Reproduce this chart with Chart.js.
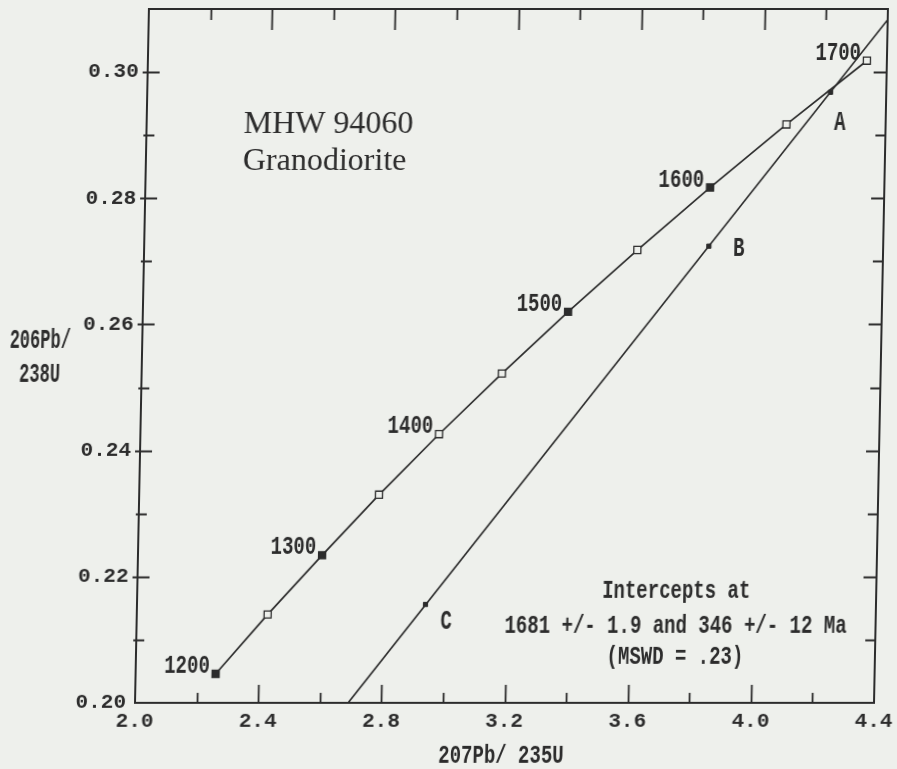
<!DOCTYPE html>
<html>
<head>
<meta charset="utf-8">
<script src="https://cdn.jsdelivr.net/npm/chart.js@4/dist/chart.umd.min.js"></script>
<style>
  html, body { margin: 0; padding: 0; background: #eef0ec; overflow: hidden; }
  #wrap { width: 897px; height: 769px; }
  canvas { display: block; transform: skewX(-1.15deg); transform-origin: 0 703px; }
</style>
</head>
<body>
<div id="wrap"><canvas id="c" width="897" height="769"></canvas></div>
<script>
// ---- data ----
const ages       = [1200, 1250, 1300, 1350, 1400, 1450, 1500, 1550, 1600, 1650, 1700];
const concordiaX = [2.260, 2.425, 2.598, 2.779, 2.970, 3.170, 3.381, 3.602, 3.834, 4.078, 4.335];
const concordiaY = [0.2046, 0.2140, 0.2234, 0.2330, 0.2426, 0.2522, 0.2620, 0.2718, 0.2817, 0.2917, 0.3018];
const labelledAges = [1200, 1300, 1400, 1500, 1600, 1700];
const filledAges   = [1200, 1300, 1500, 1600];

const discordiaX = [2.692, 4.400];
const discordiaY = [0.2000, 0.3083];

const sampleNames = ['A', 'B', 'C'];
const sampleX     = [4.219, 3.834, 2.937];
const sampleY     = [0.2968, 0.2724, 0.2156];

const xTicks      = [2.0, 2.2, 2.4, 2.6, 2.8, 3.0, 3.2, 3.4, 3.6, 3.8, 4.0, 4.2, 4.4];
const xTickLabels = ['2.0', '', '2.4', '', '2.8', '', '3.2', '', '3.6', '', '4.0', '', '4.4'];
const yTicks      = [0.20, 0.21, 0.22, 0.23, 0.24, 0.25, 0.26, 0.27, 0.28, 0.29, 0.30];
const yTickLabels = ['0.20', '', '0.22', '', '0.24', '', '0.26', '', '0.28', '', '0.30'];

const titleLines     = ['MHW 94060', 'Granodiorite'];
const interceptLines = ['Intercepts at', '1681 +/- 1.9 and 346 +/- 12 Ma', '(MSWD = .23)'];
const xTitle  = '207Pb/ 235U';
const yTitle  = ['206Pb/', '238U'];

// ---- styles ----
const INK  = '#2c2c2c';
const BG   = '#eef0ec';
const MONO = '"Liberation Mono", "DejaVu Sans Mono", monospace';
const SERIF = '"Liberation Serif", "Times New Roman", serif';
const sampleLabelOffset = { A: [10, 29], B: [30, 1], C: [21, 15] };

function stretched(ctx, text, x, y, align, sy) {
  ctx.save();
  ctx.translate(x, y);
  ctx.scale(1, sy);
  ctx.textAlign = align;
  ctx.textBaseline = 'alphabetic';
  ctx.fillText(text, 0, 0);
  ctx.restore();
}

const framePlugin = {
  id: 'frame',
  afterDraw(chart) {
    const { ctx, chartArea: a, scales: { x, y } } = chart;
    ctx.save();
    ctx.strokeStyle = INK;
    ctx.lineWidth = 2;
    ctx.strokeRect(a.left, a.top, a.right - a.left, a.bottom - a.top);
    ctx.lineWidth = 1.8;
    ctx.beginPath();
    x.ticks.forEach((t, i) => {
      if (i === 0 || i === x.ticks.length - 1) return;
      const px = Math.round(x.getPixelForValue(t.value)) + 0.5;
      const major = xTickLabels[i] !== '';
      ctx.moveTo(px, a.bottom); ctx.lineTo(px, a.bottom - (major ? 18 : 10));
      ctx.moveTo(px, a.top);    ctx.lineTo(px, a.top + (major ? 21 : 11));
    });
    y.ticks.forEach((t, i) => {
      if (i === 0) return;
      const py = Math.round(y.getPixelForValue(t.value)) + 0.5;
      const major = yTickLabels[i] !== '';
      ctx.moveTo(a.left - (major ? 5 : 3), py); ctx.lineTo(a.left + (major ? 12 : 8), py);
      ctx.moveTo(a.right - (major ? 13 : 10), py); ctx.lineTo(a.right, py);
    });
    ctx.stroke();

    // texts
    ctx.fillStyle = INK;
    ctx.font = '32px ' + SERIF;
    ctx.textAlign = 'left';
    ctx.textBaseline = 'alphabetic';
    ctx.fillText(titleLines[0], 232, 133);
    ctx.fillText(titleLines[1], 232, 170);

    ctx.font = 'bold 19px ' + MONO;
    stretched(ctx, interceptLines[0], 674, 598, 'center', 1.35);
    stretched(ctx, interceptLines[1], 674, 633, 'center', 1.35);
    stretched(ctx, interceptLines[2], 674, 664, 'center', 1.35);

    stretched(ctx, xTitle, 502, 763, 'center', 1.4);
    ctx.font = 'bold 17px ' + MONO;
    stretched(ctx, yTitle[0], 33, 348, 'center', 1.6);
    stretched(ctx, yTitle[1], 33, 382, 'center', 1.6);

    ctx.font = 'bold 19px ' + MONO;
    // age labels on the concordia
    ages.forEach((age, i) => {
      if (!labelledAges.includes(age)) return;
      const px = x.getPixelForValue(concordiaX[i]);
      const py = y.getPixelForValue(concordiaY[i]);
      stretched(ctx, String(age), px - 6, py - 1, 'right', 1.35);
    });
    // sample labels
    sampleNames.forEach((n, i) => {
      const px = x.getPixelForValue(sampleX[i]);
      const py = y.getPixelForValue(sampleY[i]);
      const o = sampleLabelOffset[n];
      stretched(ctx, n, px + o[0], py + o[1] + 9, 'center', 1.5);
    });
    ctx.restore();
  }
};

new Chart(document.getElementById('c'), {
  type: 'scatter',
  data: {
    datasets: [
      {
        label: 'Concordia',
        data: concordiaX.map((v, i) => ({ x: v, y: concordiaY[i] })),
        showLine: true,
        tension: 0,
        borderColor: INK,
        borderWidth: 1.7,
        pointStyle: 'rect',
        pointRadius: 5,
        pointBorderWidth: 1.3,
        pointBorderColor: INK,
        pointBackgroundColor: ctx => filledAges.includes(ages[ctx.dataIndex]) ? INK : BG
      },
      {
        label: 'Discordia',
        data: discordiaX.map((v, i) => ({ x: v, y: discordiaY[i] })),
        showLine: true,
        borderColor: INK,
        borderWidth: 1.7,
        pointRadius: 0
      },
      {
        label: 'Samples',
        data: sampleX.map((v, i) => ({ x: v, y: sampleY[i] })),
        showLine: false,
        pointStyle: 'rect',
        pointRadius: 3,
        pointBorderWidth: 1,
        pointBorderColor: INK,
        pointBackgroundColor: INK
      }
    ]
  },
  options: {
    responsive: false,
    animation: false,
    devicePixelRatio: 1,
    layout: { autoPadding: false, padding: { left: 0, top: 9, right: 23, bottom: 0 } },
    plugins: { legend: { display: false }, tooltip: { enabled: false } },
    scales: {
      x: {
        type: 'linear', min: 2.0, max: 4.4,
        afterBuildTicks: s => { s.ticks = xTicks.map(v => ({ value: v })); },
        afterFit: s => { s.height = 66; s.paddingLeft = 0; s.paddingRight = 0; },
        grid: { display: false, drawTicks: false },
        border: { display: false },
        ticks: {
          autoSkip: false, maxRotation: 0, padding: 6, color: INK,
          font: { family: MONO, size: 21, weight: 'bold' },
          callback: (v, i) => xTickLabels[i]
        }
      },
      y: {
        type: 'linear', min: 0.20, max: 0.31,
        afterBuildTicks: s => { s.ticks = yTicks.map(v => ({ value: v })); },
        afterFit: s => { s.width = 135; s.paddingTop = 0; s.paddingBottom = 0; },
        grid: { display: false, drawTicks: false },
        border: { display: false },
        ticks: {
          autoSkip: false, padding: 9, color: INK,
          font: { family: MONO, size: 21, weight: 'bold' },
          callback: (v, i) => yTickLabels[i]
        }
      }
    }
  },
  plugins: [framePlugin]
});
</script>
</body>
</html>
